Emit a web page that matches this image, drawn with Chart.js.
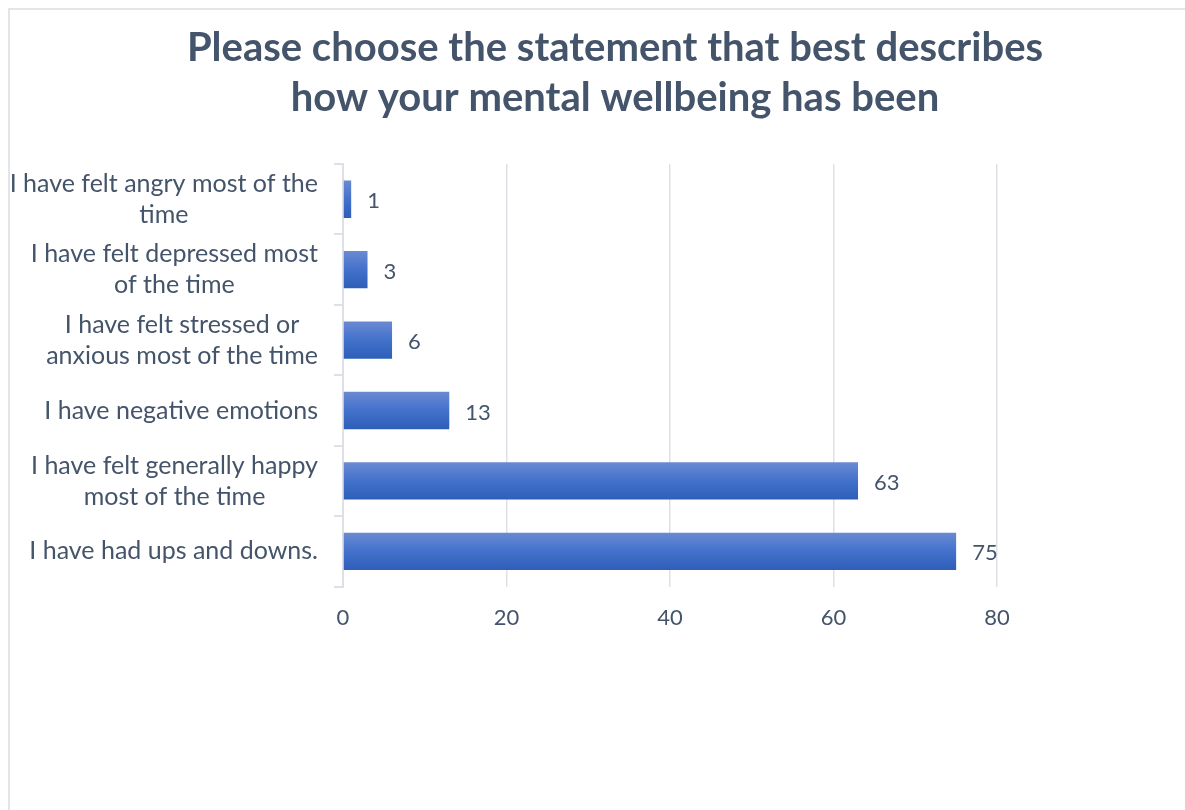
<!DOCTYPE html>
<html>
<head>
<meta charset="utf-8">
<script src="https://cdn.jsdelivr.net/npm/chart.js@4"></script>
<style>
  body { margin: 0; overflow: hidden; background: #fff; }
  #box {
    position: absolute; left: 8px; top: 8px;
    width: 1210px; height: 800px;
    border: 2px solid #e2e5ea;
  }
</style>
</head>
<body>
<div id="box"><canvas id="barChart"></canvas></div>
<script>
let labels = [
    ['I have felt angry most of the', 'time'],
    ['I have felt depressed most', 'of the time'],
    ['I have felt stressed or', 'anxious most of the time'],
    ['I have negative emotions'],
    ['I have felt generally happy', 'most of the time'],
    ['I have had ups and downs.']
];

let itemData = [1, 3, 6, 13, 63, 75];

const textColor = '#44546a';
const gridColor = '#dde1e7';
const labelFont = '25px Lato';

// gradient for each bar, built from the y scale position
function barGradient(context) {
    const chart = context.chart;
    const y = chart.scales.y;
    if (!y || !chart.chartArea) return '#4472c4';
    const center = y.getPixelForValue(context.dataIndex);
    const half = (chart.chartArea.height / labels.length) * 0.53 / 2;
    const g = chart.ctx.createLinearGradient(0, center - half, 0, center + half);
    g.addColorStop(0, '#6a8ad2');
    g.addColorStop(0.5, '#4371cc');
    g.addColorStop(1, '#2d5eb8');
    return g;
}

// category labels: block right aligned, lines centred inside it
const categoryLabels = {
    id: 'categoryLabels',
    afterDraw(chart) {
        const ctx = chart.ctx;
        const scale = chart.scales.y;
        ctx.save();
        ctx.font = labelFont;
        ctx.fillStyle = textColor;
        ctx.textAlign = 'center';
        ctx.textBaseline = 'middle';
        const right = scale.right - 25;
        labels.forEach((lines, i) => {
            const yc = scale.getPixelForTick(i);
            const widest = Math.max(...lines.map(l => ctx.measureText(l).width));
            lines.forEach((l, j) => {
                ctx.fillText(l, right - widest / 2, yc + (j - (lines.length - 1) / 2) * 31);
            });
        });
        ctx.restore();
    }
};

// value labels at bar ends
const valueLabels = {
    id: 'valueLabels',
    afterDatasetsDraw(chart) {
        const ctx = chart.ctx;
        ctx.save();
        ctx.font = '22px Lato';
        ctx.fillStyle = textColor;
        ctx.textAlign = 'left';
        ctx.textBaseline = 'middle';
        chart.getDatasetMeta(0).data.forEach((bar, i) => {
            ctx.fillText(itemData[i], bar.x + 16, bar.y + 2);
        });
        ctx.restore();
    }
};

const data = {
    labels: labels,
    datasets: [{
        data: itemData,
        backgroundColor: barGradient,
        categoryPercentage: 1,
        barPercentage: 0.53
    }]
};

const config = {
    type: 'bar',
    data: data,
    plugins: [categoryLabels, valueLabels],
    options: {
        indexAxis: 'y',
        responsive: true,
        maintainAspectRatio: false,
        animation: false,
        layout: {
            padding: { top: 0, right: 0, bottom: 161, left: 0 }
        },
        plugins: {
            legend: { display: false },
            tooltip: { enabled: false },
            title: {
                display: true,
                text: ['Please choose the statement that best describes', 'how your mental wellbeing has been'],
                color: textColor,
                font: { family: 'Lato', size: 40, weight: 'bold', lineHeight: 1.25 },
                padding: { top: 13, bottom: 41 }
            }
        },
        scales: {
            x: {
                min: 0,
                max: 80,
                ticks: {
                    stepSize: 20,
                    color: textColor,
                    font: { family: 'Lato', size: 22 },
                    padding: 18
                },
                grid: {
                    color: gridColor,
                    lineWidth: 1.5,
                    drawTicks: false
                },
                border: { display: false }
            },
            y: {
                afterFit: s => { s.width = 333; },
                ticks: { display: false },
                grid: {
                    offset: true,
                    drawOnChartArea: false,
                    drawTicks: true,
                    tickLength: 9,
                    color: gridColor,
                    lineWidth: 2
                },
                border: { color: gridColor, width: 2 }
            },
            // empty space to the right of the plot
            yRight: {
                type: 'category',
                position: 'right',
                display: true,
                afterFit: s => { s.width = 223; },
                ticks: { display: false },
                grid: { display: false },
                border: { display: false }
            }
        }
    }
};

const chart = new Chart(
    document.getElementById('barChart'),
    config
);
</script>
</body>
</html>
